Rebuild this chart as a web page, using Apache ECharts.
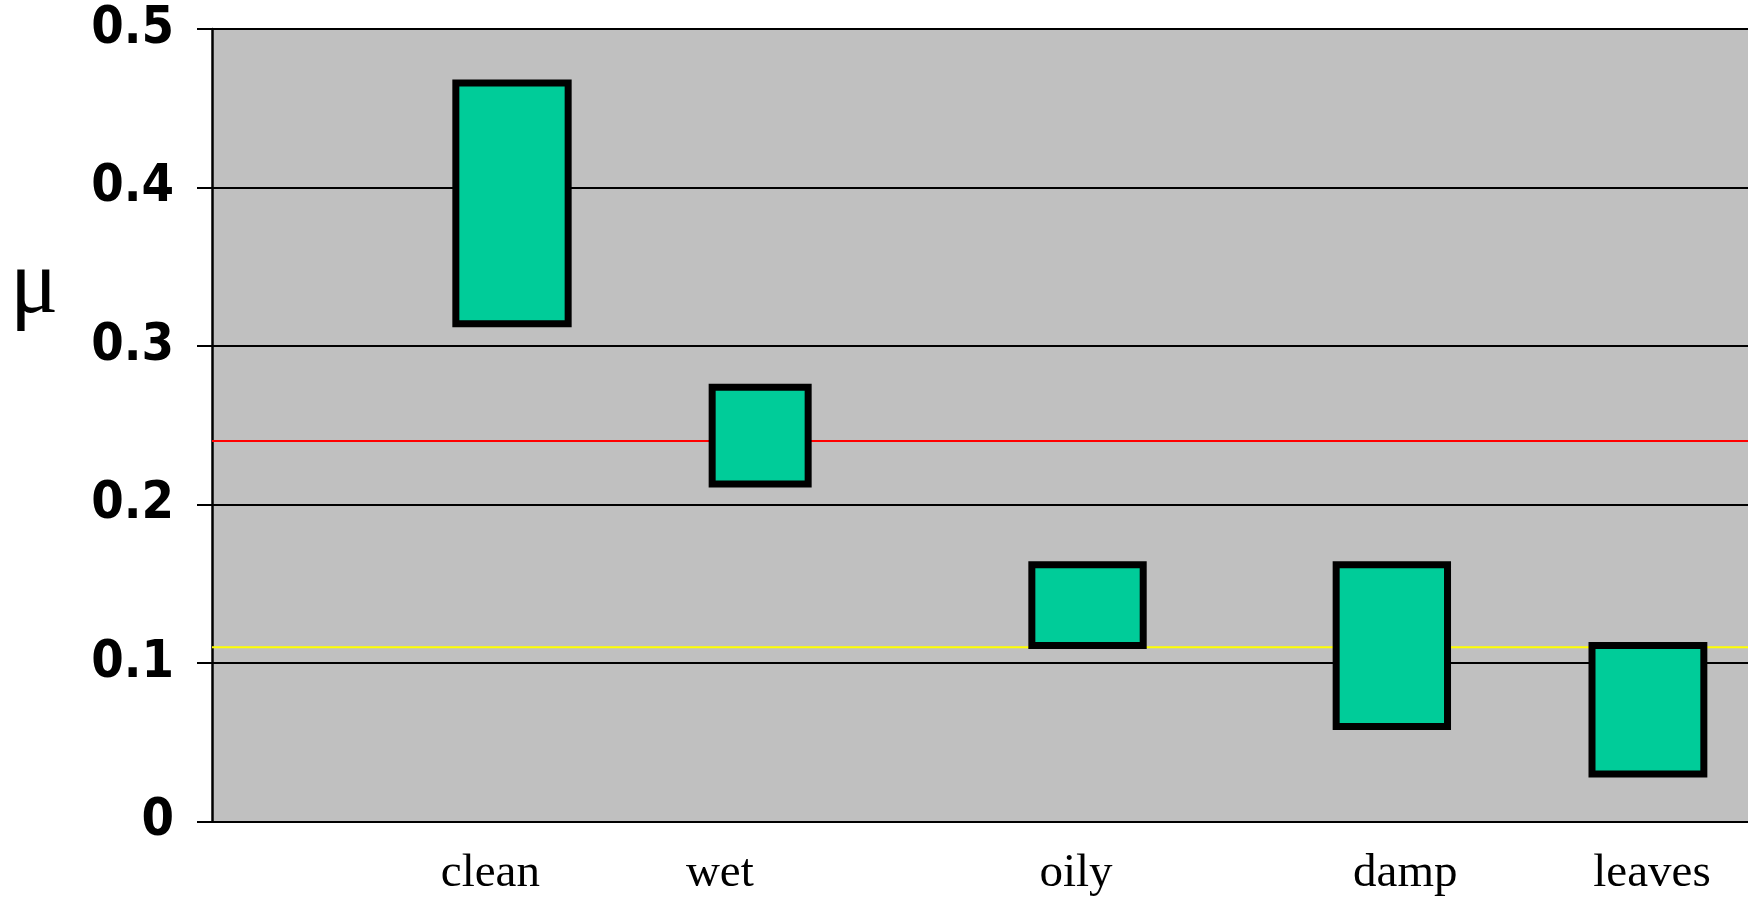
<!DOCTYPE html>
<html>
<head>
<meta charset="utf-8">
<script src="https://cdn.jsdelivr.net/npm/echarts@6/dist/echarts.min.js"></script>
<style>
html,body{margin:0;padding:0;background:#fff;}
#c{width:1748px;height:898px;}
</style>
</head>
<body>
<div id="c"></div>
<script>
// ---- data ----
const categories = ['clean', 'wet', 'oily', 'damp', 'leaves'];
const labelPos   = [2.90, 5.29, 9.0, 12.43, 15.0];      // x position of category labels
const boxLeft    = [2.54, 5.21, 8.54, 11.71, 14.375];   // x start of each range box
const boxRight   = [3.71, 6.21, 9.70, 12.87, 15.54];    // x end of each range box
const muLow      = [0.314, 0.213, 0.111, 0.060, 0.030];
const muHigh     = [0.466, 0.274, 0.162, 0.162, 0.111];
const redLevel   = 0.24;
const yellowLevel = 0.11;
const xMin = 0, xMax = 16;
const yMin = 0, yMax = 0.5, yStep = 0.1;

const boxData = categories.map((c, i) => [boxLeft[i], boxRight[i], muLow[i], muHigh[i]]);

const chart = echarts.init(document.getElementById('c'), null, {renderer: 'canvas'});
chart.setOption({
  backgroundColor: '#ffffff',
  animation: false,
  grid: {
    left: 212, right: 0, top: 29, bottom: 76.5,
    show: true, backgroundColor: '#C0C0C0', borderWidth: 0
  },
  xAxis: {
    type: 'value', min: xMin, max: xMax,
    axisLine: {show: true, lineStyle: {color: '#000', width: 2}},
    axisTick: {show: false},
    splitLine: {show: false},
    axisLabel: {
      customValues: labelPos,
      margin: 29,
      color: '#000',
      fontFamily: "'Liberation Serif', 'Times New Roman', serif",
      fontSize: 47,
      formatter: function (v) {
        for (let i = 0; i < labelPos.length; i++) {
          if (Math.abs(labelPos[i] - v) < 1e-6) return categories[i];
        }
        return '';
      }
    }
  },
  yAxis: {
    type: 'value', min: yMin, max: yMax, interval: yStep,
    axisLine: {show: true, lineStyle: {color: '#000', width: 2.5}},
    axisTick: {show: true, length: 15, lineStyle: {color: '#000', width: 2}},
    splitLine: {show: true, lineStyle: {color: '#000', width: 2}},
    axisLabel: {
      margin: 38,
      color: '#000',
      fontWeight: 'bold',
      fontFamily: "'DejaVu Sans Condensed', 'DejaVu Sans', Verdana, sans-serif",
      fontSize: 52
    }
  },
  graphic: [{
    type: 'text', left: 10, top: 243,
    style: {
      text: 'μ', fill: '#000',
      font: "90px 'Liberation Serif', 'Times New Roman', serif"
    }
  }],
  series: [
    {
      type: 'line', z: 2, symbol: 'none', silent: true,
      data: [[xMin, redLevel], [xMax, redLevel]],
      lineStyle: {color: '#FF0000', width: 2}
    },
    {
      type: 'line', z: 2, symbol: 'none', silent: true,
      data: [[xMin, yellowLevel], [xMax, yellowLevel]],
      lineStyle: {color: '#FFFF00', width: 2}
    },
    {
      type: 'custom', z: 5,
      data: boxData,
      encode: {x: [0, 1], y: [2, 3]},
      renderItem: function (params, api) {
        const p0 = api.coord([api.value(0), api.value(3)]);
        const p1 = api.coord([api.value(1), api.value(2)]);
        return {
          type: 'rect',
          shape: {x: p0[0], y: p0[1], width: p1[0] - p0[0], height: p1[1] - p0[1]},
          style: {fill: '#00CC99', stroke: '#000', lineWidth: 7}
        };
      }
    }
  ]
});
</script>
</body>
</html>
